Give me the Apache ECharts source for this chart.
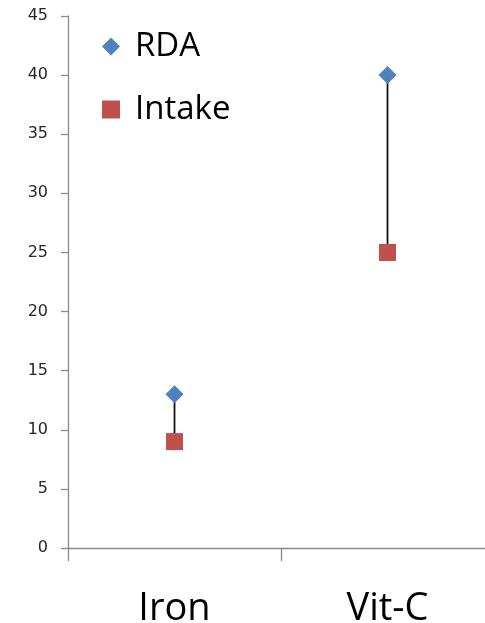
<!DOCTYPE html>
<html>
<head>
<meta charset="utf-8">
<script src="https://cdn.jsdelivr.net/npm/echarts@6/dist/echarts.min.js"></script>
<style>
  html, body { margin: 0; padding: 0; background: #fff; }
  #chart { width: 485px; height: 623px; }
</style>
</head>
<body>
<div id="chart"></div>
<script>
// Nutrient categories and values
const categories = ['Iron', 'Vit-C'];
const rdaValues = [13, 40];
const intakeValues = [9, 25];
const yTicksMax = 45;
const yTickStep = 5;

const chart = echarts.init(document.getElementById('chart'), null, { renderer: 'canvas' });

// Connector segments between RDA and intake for each category
const rangeData = categories.map((c, i) => [i, rdaValues[i], intakeValues[i]]);

const option = {
  animation: false,
  backgroundColor: '#ffffff',
  grid: { left: 68, width: 426, top: 16, height: 532, containLabel: false, outerBoundsMode: 'none' },
  legend: {
    orient: 'vertical',
    left: 97,
    top: 25,
    itemGap: 30,
    itemWidth: 18,
    itemHeight: 18,
    textStyle: { fontFamily: 'Open Sans', fontSize: 33, color: '#000', padding: [0, 0, 0, 10] },
    data: [
      { name: 'RDA', icon: 'diamond' },
      { name: 'Intake', icon: 'rect' }
    ]
  },
  xAxis: {
    type: 'category',
    data: categories,
    boundaryGap: true,
    axisLine: { lineStyle: { color: '#898989', width: 1.3 } },
    axisTick: { show: true, length: 13, inside: false, lineStyle: { color: '#898989', width: 1.3 } },
    axisLabel: { fontFamily: 'Open Sans', fontSize: 38, color: '#000', margin: 42 }
  },
  yAxis: {
    type: 'value',
    min: 0,
    max: yTicksMax,
    interval: yTickStep,
    splitLine: { show: false },
    axisLine: { show: true, lineStyle: { color: '#898989', width: 1.3 } },
    axisTick: { show: true, length: 7, inside: false, lineStyle: { color: '#898989', width: 1.3 } },
    axisLabel: { fontFamily: 'DejaVu Sans', fontSize: 16, color: '#262626', margin: 20 }
  },
  series: [
    {
      name: 'connector',
      type: 'custom',
      z: 1,
      data: rangeData,
      encode: { x: 0, y: [1, 2] },
      renderItem: function (params, api) {
        const p1 = api.coord([api.value(0), api.value(1)]);
        const p2 = api.coord([api.value(0), api.value(2)]);
        return {
          type: 'line',
          shape: { x1: p1[0], y1: p1[1], x2: p2[0], y2: p2[1] },
          style: { stroke: '#111', lineWidth: 1.8 }
        };
      }
    },
    {
      name: 'RDA',
      type: 'scatter',
      z: 3,
      symbol: 'diamond',
      symbolSize: 18,
      itemStyle: { color: '#4F81BD', opacity: 1 },
      data: rdaValues
    },
    {
      name: 'Intake',
      type: 'scatter',
      z: 3,
      symbol: 'rect',
      symbolSize: 17,
      itemStyle: { color: '#C0504D', opacity: 1 },
      data: intakeValues
    }
  ]
};

chart.setOption(option);
</script>
</body>
</html>
